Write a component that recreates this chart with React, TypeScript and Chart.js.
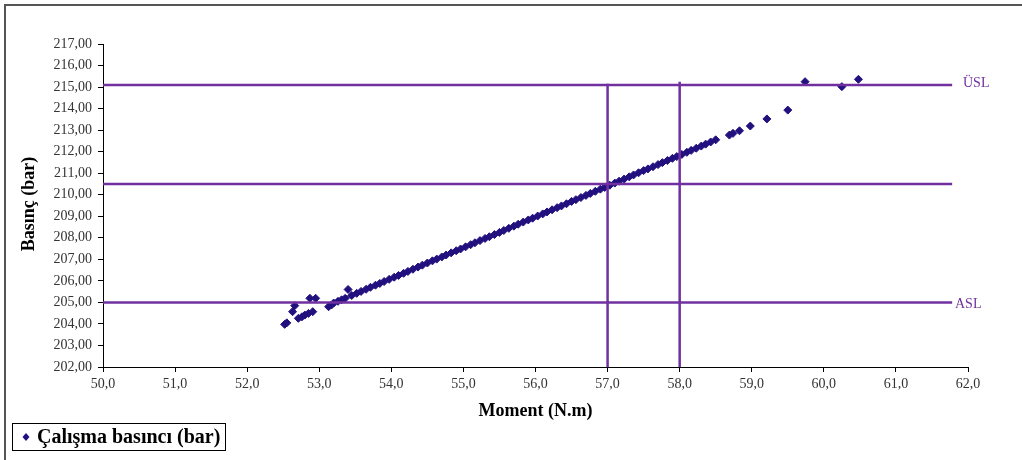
import React, { useEffect, useRef } from "react";
import { Chart, registerables } from "chart.js";

Chart.register(...registerables);

// Scatter data: Moment (N.m) vs Çalışma basıncı (bar)
const momentValues: number[] = [
  52.52, 52.55, 52.63, 52.66, 52.71, 52.76, 52.80, 52.85, 52.91, 52.87, 52.95,
  53.13, 53.17, 53.40,
  53.20, 53.26, 53.31, 53.36, 53.45, 53.52, 53.58, 53.65, 53.71, 53.78, 53.84,
  53.90, 53.97, 54.04, 54.10, 54.17, 54.23, 54.30, 54.37, 54.43, 54.50, 54.57,
  54.63, 54.70, 54.76, 54.83, 54.90, 54.96, 55.03, 55.10, 55.16, 55.23, 55.30,
  55.36, 55.43, 55.50, 55.56, 55.63, 55.70, 55.76, 55.83, 55.90, 55.96, 56.03,
  56.10, 56.16, 56.23, 56.30, 56.36, 56.43, 56.50, 56.56, 56.63, 56.70, 56.76,
  56.83, 56.90, 56.96, 57.03, 57.10, 57.16, 57.23, 57.30, 57.36, 57.43, 57.50,
  57.56, 57.63, 57.70, 57.76, 57.83, 57.90, 57.96, 58.03, 58.10, 58.16, 58.23,
  58.30, 58.36, 58.43, 58.50,
  58.69, 58.74, 58.83, 58.98, 59.21, 59.50, 59.74, 60.25, 60.48,
];
const pressureValues: number[] = [
  203.98, 204.05, 204.57, 204.85, 204.26, 204.33, 204.41, 204.49, 204.57, 205.19, 205.19,
  204.80, 204.88, 205.60,
  204.97, 205.05, 205.12, 205.19, 205.32, 205.42, 205.51, 205.61, 205.70, 205.80, 205.88,
  205.97, 206.07, 206.17, 206.25, 206.35, 206.44, 206.54, 206.64, 206.73, 206.83, 206.93,
  207.01, 207.11, 207.20, 207.30, 207.40, 207.48, 207.58, 207.68, 207.77, 207.87, 207.97,
  208.05, 208.15, 208.25, 208.34, 208.44, 208.54, 208.63, 208.73, 208.83, 208.91, 209.01,
  209.11, 209.20, 209.30, 209.40, 209.48, 209.58, 209.69, 209.77, 209.87, 209.97, 210.06,
  210.16, 210.26, 210.34, 210.44, 210.54, 210.63, 210.73, 210.83, 210.92, 211.02, 211.12,
  211.20, 211.30, 211.40, 211.49, 211.59, 211.69, 211.77, 211.87, 211.97, 212.06, 212.16,
  212.26, 212.35, 212.45, 212.55,
  212.77, 212.85, 212.97, 213.19, 213.52, 213.93, 215.25, 215.02, 215.36,
];

// Limit lines
const uslValue = 215.1;
const centerValue = 210.5;
const aslValue = 205.0;
const limitLineStartX = 50;
const limitLineEndX = 61.78;
const verticalLimitX: number[] = [57, 58];
const verticalLimitTop: number[] = [215.15, 215.25];

// Axes
const xMin = 50;
const xMax = 62;
const yMin = 202;
const yMax = 217;

const seriesLabel = "Çalışma basıncı (bar)";
const xTitle = "Moment (N.m)";
const yTitle = "Basınç (bar)";
const uslLabel = "ÜSL";
const aslLabel = "ASL";

const LINE_COLOR = "#7030A0";
const POINT_COLOR = "#22107E";
const SERIF = "'Liberation Serif', 'Times New Roman', serif";

export default function App() {
  const canvasRef = useRef<HTMLCanvasElement | null>(null);

  useEffect(() => {
    const canvas = canvasRef.current;
    if (!canvas) return;

    const points = momentValues.map((x, i) => ({ x, y: pressureValues[i] }));
    const hLine = (y: number) => [
      { x: limitLineStartX, y },
      { x: limitLineEndX, y },
    ];
    const lineDs = (data: { x: number; y: number }[]) => ({
      type: "line" as const,
      data,
      showLine: true,
      borderColor: LINE_COLOR,
      borderWidth: 2.5,
      pointRadius: 0,
      fill: false,
      order: 1,
    });

    const decorPlugin = {
      id: "decor",
      afterDraw(chart: any) {
        const ctx = chart.ctx as CanvasRenderingContext2D;
        const xs = chart.scales.x;
        const ys = chart.scales.y;
        ctx.save();
        // outer frame (top and left)
        ctx.strokeStyle = "#555555";
        ctx.lineWidth = 2;
        ctx.beginPath();
        ctx.moveTo(5, 460);
        ctx.lineTo(5, 5);
        ctx.lineTo(1022, 5);
        ctx.stroke();

        // limit labels
        ctx.fillStyle = LINE_COLOR;
        ctx.font = `14px ${SERIF}`;
        ctx.textAlign = "left";
        ctx.textBaseline = "middle";
        ctx.fillText(uslLabel, 963, ys.getPixelForValue(uslValue) - 2);
        ctx.fillText(aslLabel, 955, ys.getPixelForValue(aslValue) + 2);

        // axis titles
        ctx.fillStyle = "#000000";
        ctx.font = `bold 18px ${SERIF}`;
        ctx.textAlign = "center";
        ctx.textBaseline = "middle";
        ctx.fillText(xTitle, (xs.left + xs.right) / 2, 411);
        ctx.save();
        ctx.translate(29, 204);
        ctx.rotate(-Math.PI / 2);
        ctx.fillText(yTitle, 0, 0);
        ctx.restore();

        // legend box
        ctx.strokeStyle = "#000000";
        ctx.lineWidth = 1;
        ctx.fillStyle = "#ffffff";
        ctx.fillRect(12.5, 423.5, 213, 27);
        ctx.strokeRect(12.5, 423.5, 213, 27);
        ctx.fillStyle = POINT_COLOR;
        ctx.beginPath();
        ctx.moveTo(26, 433);
        ctx.lineTo(29.5, 437);
        ctx.lineTo(26, 441);
        ctx.lineTo(22.5, 437);
        ctx.closePath();
        ctx.fill();
        ctx.fillStyle = "#000000";
        ctx.font = `bold 20px ${SERIF}`;
        ctx.textAlign = "left";
        ctx.textBaseline = "middle";
        ctx.fillText(seriesLabel, 37, 438);
        ctx.restore();
      },
    };

    const chart = new Chart(canvas, {
      type: "scatter",
      data: {
        datasets: [
          {
            type: "scatter",
            label: seriesLabel,
            data: points,
            pointStyle: "rectRot",
            pointRadius: 4,
            backgroundColor: POINT_COLOR,
            borderColor: POINT_COLOR,
            borderWidth: 1,
            order: 2,
          } as any,
          lineDs(hLine(uslValue)),
          lineDs(hLine(centerValue)),
          lineDs(hLine(aslValue)),
          lineDs([
            { x: verticalLimitX[0], y: yMin },
            { x: verticalLimitX[0], y: verticalLimitTop[0] },
          ]),
          lineDs([
            { x: verticalLimitX[1], y: yMin },
            { x: verticalLimitX[1], y: verticalLimitTop[1] },
          ]),
        ],
      },
      options: {
        responsive: false,
        animation: false,
        devicePixelRatio: 1,
        layout: { padding: { left: 0, top: 44, right: 54, bottom: 0 } },
        plugins: {
          legend: { display: false },
          tooltip: { enabled: false },
        },
        scales: {
          x: {
            type: "linear",
            min: xMin,
            max: xMax,
            ticks: {
              stepSize: 1,
              color: "#333333",
              font: { family: SERIF, size: 14 },
              padding: 4,
              callback: (v: any) => Number(v).toFixed(1).replace(".", ","),
            },
            grid: {
              display: true,
              drawOnChartArea: false,
              drawTicks: true,
              tickLength: 5,
              color: "#000000",
            },
            border: { display: true, color: "#000000", width: 1 },
            afterFit: (s: any) => {
              s.height = 93;
            },
          },
          y: {
            type: "linear",
            min: yMin,
            max: yMax,
            ticks: {
              stepSize: 1,
              color: "#333333",
              font: { family: SERIF, size: 14 },
              padding: 6,
              callback: (v: any) => Number(v).toFixed(2).replace(".", ","),
            },
            grid: {
              display: true,
              drawOnChartArea: false,
              drawTicks: true,
              tickLength: 5,
              color: "#000000",
            },
            border: { display: true, color: "#000000", width: 1 },
            afterFit: (s: any) => {
              s.width = 103;
            },
          },
        },
      } as any,
      plugins: [decorPlugin],
    });

    return () => chart.destroy();
  }, []);

  return (
    <div style={{ position: "fixed", left: 0, top: 0, width: 1022, height: 460, background: "#ffffff" }}>
      <canvas ref={canvasRef} width={1022} height={460} style={{ display: "block" }} />
    </div>
  );
}
